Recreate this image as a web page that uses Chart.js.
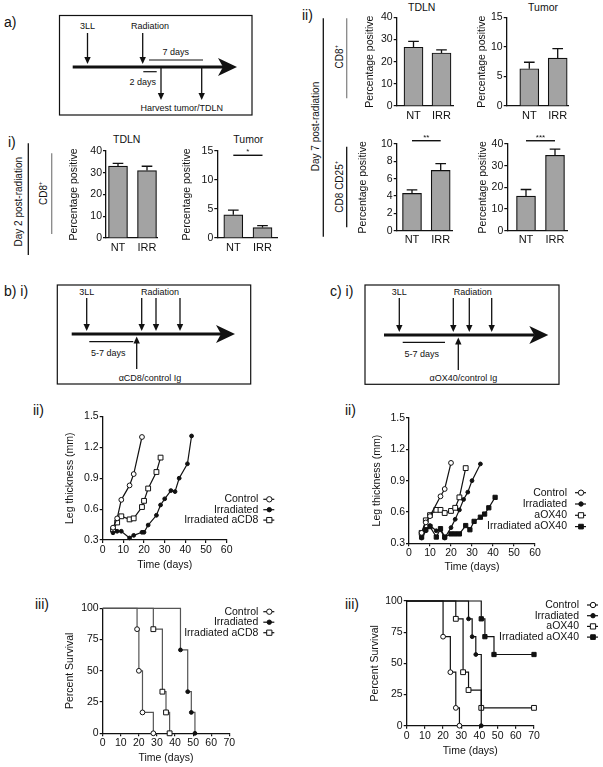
<!DOCTYPE html>
<html><head><meta charset="utf-8">
<script src="https://cdn.jsdelivr.net/npm/chart.js@4.4.1/dist/chart.umd.min.js"></script>
<style>
html,body{margin:0;padding:0;background:#fff;}
#page{position:relative;width:603px;height:767px;overflow:hidden;background:#fff;}
#page canvas{position:absolute;}
#ann{position:absolute;left:0;top:0;}
#ann text{font-family:"Liberation Sans",Arial,sans-serif;fill:#111;}
</style></head>
<body><div id="page">
<svg id="ann" width="603" height="767" viewBox="0 0 603 767"></svg>
</div>
<script>
// ---------------- DATA ----------------
const barCategories = ['NT', 'IRR'];
const day2TdlnCD8 = [33.1, 31.0];
const day2TdlnCD8Err = [1.2, 2.0];
const day2TumorCD8 = [4.0, 1.8];
const day2TumorCD8Err = [0.8, 0.35];
const day7TdlnCD8 = [26.5, 23.9];
const day7TdlnCD8Err = [2.6, 1.4];
const day7TumorCD8 = [6.3, 8.1];
const day7TumorCD8Err = [1.1, 1.6];
const day7TdlnCD25 = [4.3, 6.95];
const day7TdlnCD25Err = [0.4, 0.78];
const day7TumorCD25 = [16.0, 34.8];
const day7TumorCD25Err = [3.0, 2.8];

// b ii) leg thickness
const bCtrlDays = [5, 7, 9, 13, 15, 19];
const bCtrlThick = [0.42, 0.51, 0.69, 0.83, 0.94, 1.30];
const bIrrDays = [5, 7, 9, 13, 15, 19, 20, 22, 26, 28, 30, 33, 35, 37, 41, 43];
const bIrrThick = [0.37, 0.385, 0.385, 0.32, 0.345, 0.375, 0.375, 0.445, 0.54, 0.64, 0.70, 0.78, 0.77, 0.90, 1.04, 1.31];
const bIrrCD8Days = [5, 7, 9, 13, 15, 19, 20, 22, 26, 28];
const bIrrCD8Thick = [0.40, 0.47, 0.53, 0.50, 0.51, 0.62, 0.68, 0.80, 0.96, 1.10];

// c ii) leg thickness
const cCtrlDays = [6, 8, 10, 15, 17, 20];
const cCtrlThick = [0.40, 0.50, 0.56, 0.75, 0.82, 1.07];
const cIrrDays = [6, 8, 10, 13, 15, 17, 20, 22, 24, 26, 28, 30, 34];
const cIrrThick = [0.35, 0.42, 0.47, 0.42, 0.43, 0.35, 0.45, 0.53, 0.62, 0.72, 0.79, 0.90, 1.06];
const cOX40Days = [6, 8, 10, 13, 15, 17, 20, 22, 24, 27];
const cOX40Thick = [0.40, 0.52, 0.57, 0.62, 0.62, 0.59, 0.61, 0.64, 0.74, 1.02];
const cIrrOX40Days = [6, 8, 10, 13, 15, 17, 20, 22, 24, 27, 29, 31, 34, 36, 38, 41];
const cIrrOX40Thick = [0.36, 0.43, 0.46, 0.36, 0.44, 0.36, 0.39, 0.39, 0.39, 0.47, 0.43, 0.51, 0.55, 0.58, 0.64, 0.74];

// b iii) survival
const bSurvCtrlDays = [0, 19, 20, 22, 28];
const bSurvCtrl = [100, 83.3, 50, 16.7, 0];
const bSurvIrrDays = [0, 43, 47, 49, 51];
const bSurvIrr = [100, 66.7, 33.3, 16.7, 0];
const bSurvIrrCD8Days = [0, 28, 33, 35, 37];
const bSurvIrrCD8 = [100, 83.3, 33.3, 16.7, 0];

// c iii) survival
const cSurvCtrlDays = [0, 20, 24, 27, 29];
const cSurvCtrl = [100, 71.4, 42.9, 14.3, 0];
const cSurvIrrDays = [0, 34, 36, 38, 41];
const cSurvIrr = [100, 85.7, 71.4, 57.1, 0];
const cSurvOX40Days = [0, 27, 31, 34, 41, 70];
const cSurvOX40 = [100, 85.7, 42.9, 28.6, 14.3, 14.3];
const cSurvIrrOX40Days = [0, 41, 43, 48, 70];
const cSurvIrrOX40 = [100, 85.7, 71.4, 57.1, 57.1];

// ---------------- ANNOTATIONS (SVG) ----------------
const NS = 'http://www.w3.org/2000/svg';
const ann = document.getElementById('ann');
function el(tag, attrs, text) {
  const e = document.createElementNS(NS, tag);
  for (const k in attrs) e.setAttribute(k, attrs[k]);
  if (text !== undefined) e.textContent = text;
  ann.appendChild(e); return e;
}
function ln(x1, y1, x2, y2, w, c) { el('line', {x1, y1, x2, y2, stroke: c || '#111', 'stroke-width': w || 1.2}); }
function arrowV(x, y1, y2) {
  const d = y2 > y1 ? 1 : -1;
  ln(x, y1, x, y2 - d * 5, 1.3);
  el('polygon', {points: `${x - 3.2},${y2 - d * 7} ${x + 3.2},${y2 - d * 7} ${x},${y2}`, fill: '#111'});
}
function mainArrow(x1, x2, y) {
  ln(x1, y, x2 - 14, y, 3);
  el('polygon', {points: `${x2 - 19},${y - 9} ${x2},${y} ${x2 - 19},${y + 9} ${x2 - 14},${y}`, fill: '#111'});
}
function txt(x, y, s, size, anchor) { return el('text', {x, y, 'font-size': size, 'text-anchor': anchor || 'middle'}, s); }
function vtxt(x, y, s, size) {
  return el('text', {transform: `translate(${x},${y}) rotate(-90)`, 'font-size': size, 'text-anchor': 'middle', 'dominant-baseline': 'central'}, s);
}
function rect(x, y, w, h) { el('rect', {x, y, width: w, height: h, fill: 'none', stroke: '#111', 'stroke-width': 1.2}); }

// panel labels
[['a)', 4, 27], ['i)', 8, 147], ['ii)', 302, 20], ['b) i)', 4, 296], ['c) i)', 330, 296],
 ['ii)', 33, 415], ['ii)', 345, 415], ['iii)', 35, 609], ['iii)', 345, 609]].forEach(p => txt(p[1], p[2], p[0], 14, 'start'));

// timeline a
rect(59.5, 15.5, 192.5, 99.5);
txt(87.5, 28.5, '3LL', 9); arrowV(87.5, 33, 64);
txt(150, 28.5, 'Radiation', 9); arrowV(142.7, 33, 64);
mainArrow(72.7, 237, 67);
ln(149, 60, 203, 60, 1.2); txt(175.7, 55, '7 days', 9);
ln(143.3, 71.7, 156.7, 71.7, 1.2); txt(142.7, 84.5, '2 days', 9);
arrowV(161, 68, 100); arrowV(201.7, 68, 100);
txt(181.7, 111, 'Harvest tumor/TDLN', 9);

// timeline b i
rect(57.3, 285, 193.4, 99);
txt(86.7, 295, '3LL', 9); arrowV(86.7, 298, 331);
txt(160, 295, 'Radiation', 9); arrowV(141.7, 298, 331); arrowV(156, 298, 331); arrowV(180, 298, 331);
mainArrow(71.7, 235, 334);
ln(89.3, 341.7, 133.3, 341.7, 1.2); txt(108.3, 355.5, '5-7 days', 9);
arrowV(136.7, 369, 336.5);
txt(150, 381, 'αCD8/control Ig', 9);

// timeline c i
rect(365, 285, 194, 99.3);
txt(399.3, 295, '3LL', 9); arrowV(399.3, 298, 332);
txt(472.7, 295, 'Radiation', 9); arrowV(453.3, 298, 332); arrowV(469.3, 298, 332); arrowV(491.7, 298, 332);
mainArrow(384, 548.3, 335);
ln(402.7, 342.3, 445, 342.3, 1.2); txt(421.7, 356.5, '5-7 days', 9);
arrowV(458.3, 370, 337.5);
txt(463.3, 381, 'αOX40/control Ig', 9);

// vertical group labels
vtxt(18, 201.7, 'Day 2 post-radiation', 10); ln(28.3, 143.3, 28.3, 255, 1.3);
let t = vtxt(43.3, 193.3, 'CD8', 10);
t.innerHTML = 'CD8<tspan baseline-shift="super" font-size="6">+</tspan>';
ln(51.7, 153.3, 51.7, 234, 1.3, '#888');
vtxt(315, 126.5, 'Day 7 post-radiation', 10); ln(323.3, 18.3, 323.3, 236.7, 1.3);
t = vtxt(339, 56.7, 'CD8', 10); t.innerHTML = 'CD8<tspan baseline-shift="super" font-size="6">+</tspan>';
ln(346.7, 18.3, 346.7, 98.3, 1.3, '#888');
t = vtxt(339, 186.7, 'CD8 CD25', 10); t.innerHTML = 'CD8 CD25<tspan baseline-shift="super" font-size="6">+</tspan>';
ln(346.7, 146.7, 346.7, 227.3, 1.3);

// chart titles
txt(126.7, 143, 'TDLN', 10.5); txt(248.3, 143, 'Tumor', 10.5);
txt(421.7, 11, 'TDLN', 10.5); txt(543, 11, 'Tumor', 10.5);

// ---------------- CHARTS ----------------
const INK = '#111';
const FONT = '"Liberation Sans", Arial, Helvetica, sans-serif';
Chart.defaults.font.family = FONT;
Chart.defaults.font.size = 10;
Chart.defaults.color = INK;

function setup(id, g) {
  const left = Math.round(g.ytx - 6), top = Math.round(g.T - g.padTop);
  const width = Math.round(g.right) - left;
  const want = g.xty ? (g.xty - g.B + 6) : g.xH;
  const height = Math.ceil(g.B - top + want);
  const fr = {left, top, width, height, yW: g.L - left, xH: height - (g.B - top), padTop: g.T - top, padRight: width - (g.R - left)};
  const c = document.createElement('canvas');
  c.id = id; c.width = width; c.height = height;
  c.style.left = left + 'px'; c.style.top = top + 'px';
  c.style.width = width + 'px'; c.style.height = height + 'px';
  document.getElementById('page').appendChild(c);
  return {c, fr};
}

function yScale(min, max, step, title, fr, fmt) {
  return {
    type: 'linear', min, max,
    ticks: {stepSize: step, padding: 1, color: INK, font: {size: 10.5}, callback: fmt || (v => v)},
    grid: {display: true, drawOnChartArea: false, drawTicks: true, tickLength: 3, color: INK, lineWidth: 1.2},
    border: {display: true, color: INK, width: 1.3},
    title: {display: true, text: title, padding: 0, font: {size: 10.5}, color: INK},
    afterFit(s) { s.width = fr.yW; }
  };
}

const errorBarPlugin = {
  id: 'errorBars',
  afterDatasetsDraw(chart) {
    const ctx = chart.ctx, y = chart.scales.y;
    chart.data.datasets.forEach((ds, di) => {
      if (!ds.errors) return;
      chart.getDatasetMeta(di).data.forEach((bar, i) => {
        const v = ds.data[i].y, e = ds.errors[i];
        const top = y.getPixelForValue(v + e), base = y.getPixelForValue(v);
        const half = bar.width * 0.28;
        ctx.save(); ctx.strokeStyle = INK; ctx.lineWidth = 1.3;
        ctx.beginPath(); ctx.moveTo(bar.x, base); ctx.lineTo(bar.x, top);
        ctx.moveTo(bar.x - half, top); ctx.lineTo(bar.x + half, top); ctx.stroke(); ctx.restore();
      });
    });
  }
};
const sigPlugin = {
  id: 'sig',
  afterDraw(chart, args, opts) {
    if (!opts || !opts.text) return;
    const meta = chart.getDatasetMeta(0);
    const x1 = meta.data[0].x, x2 = meta.data[1].x;
    const yy = chart.scales.y.getPixelForValue(opts.level);
    const ctx = chart.ctx;
    ctx.save(); ctx.strokeStyle = INK; ctx.lineWidth = 1.4;
    ctx.beginPath(); ctx.moveTo(x1, yy); ctx.lineTo(x2, yy); ctx.stroke();
    ctx.fillStyle = INK; ctx.font = '8px ' + FONT; ctx.textAlign = 'center'; ctx.textBaseline = 'bottom';
    ctx.fillText(opts.text, (x1 + x2) / 2, yy + 1);
    ctx.restore();
  }
};

function barChart(id, g, vals, errs, yMin, yMax, yStep, sig) {
  const {c, fr} = setup(id, g);
  const u = g.c2 - g.c1;
  const xmin = 1 - (g.c1 - g.L) / u, xmax = 2 + (g.R - g.c2) / u;
  new Chart(c, {
    type: 'bar',
    data: {datasets: [{
      data: barCategories.map((k, i) => ({x: i + 1, y: vals[i]})),
      errors: errs, backgroundColor: '#a3a3a3', borderColor: INK, borderWidth: 1.2, barThickness: 19
    }]},
    options: {
      responsive: false, animation: false, events: [],
      layout: {padding: {top: fr.padTop, right: fr.padRight, bottom: 0, left: 0}},
      plugins: {legend: {display: false}, tooltip: {enabled: false}, sig: sig || {}},
      scales: {
        x: {type: 'linear', min: xmin, max: xmax, offset: false,
            afterBuildTicks(s) { s.ticks = barCategories.map((k, i) => ({value: i + 1})); },
            ticks: {callback: (v, i) => barCategories[i], autoSkip: false, padding: 3, font: {size: 11}, color: INK, maxRotation: 0},
            grid: {display: false, drawTicks: false, tickLength: 0}, border: {display: true, color: INK, width: 1.3},
            afterFit(s) { s.height = fr.xH; }},
        y: yScale(yMin, yMax, yStep, 'Percentage positive', fr)
      }
    },
    plugins: [errorBarPlugin, sigPlugin]
  });
}

barChart('a1', {L: 106, T: 151, R: 157, B: 238, c1: 118, c2: 147, ytx: 74, padTop: 10, right: 161, xH: 18},
  day2TdlnCD8, day2TdlnCD8Err, 0, 40, 10);
barChart('a2', {L: 217.3, T: 151, R: 277, B: 238, c1: 233.3, c2: 262.5, ytx: 186.7, padTop: 10, right: 281, xH: 18},
  day2TumorCD8, day2TumorCD8Err, 0, 15, 5, {level: 14.26, text: '*'});
barChart('a3', {L: 396.7, T: 17.3, R: 453, B: 106, c1: 413.5, c2: 441.5, ytx: 370, padTop: 10, right: 457, xH: 18},
  day7TdlnCD8, day7TdlnCD8Err, 0, 40, 10);
barChart('a4', {L: 506.7, T: 17.3, R: 568, B: 106, c1: 529.3, c2: 557.7, ytx: 481.7, padTop: 10, right: 572, xH: 18},
  day7TumorCD8, day7TumorCD8Err, 0, 15, 5);
barChart('a5', {L: 396.7, T: 144, R: 452, B: 230.7, c1: 412, c2: 440.7, ytx: 363.3, padTop: 14, right: 456, xH: 18},
  day7TdlnCD25, day7TdlnCD25Err, 0, 10, 2, {level: 10.38, text: '**'});
barChart('a6', {L: 507.3, T: 144, R: 567, B: 230.7, c1: 526, c2: 555, ytx: 482.7, padTop: 14, right: 571, xH: 18},
  day7TumorCD25, day7TumorCD25Err, 0, 40, 10, {level: 41.5, text: '***'});

// ---- line / survival charts ----
function drawMarker(ctx, style, x, y, r, fill) {
  ctx.beginPath();
  if (style === 'rect') { const s = r * Math.SQRT1_2; ctx.rect(x - s, y - s, 2 * s, 2 * s); }
  else ctx.arc(x, y, r, 0, Math.PI * 2);
  ctx.fillStyle = fill; ctx.fill(); ctx.lineWidth = 1; ctx.strokeStyle = INK; ctx.stroke();
}
const sideLegendPlugin = {
  id: 'sideLegend',
  afterDraw(chart, args, o) {
    const ctx = chart.ctx;
    ctx.save();
    chart.data.datasets.forEach((ds, i) => {
      const y = o.y + i * o.dy;
      ctx.font = '10.5px ' + FONT; ctx.fillStyle = INK; ctx.textAlign = 'right'; ctx.textBaseline = 'middle';
      ctx.fillText(ds.label, o.x, y);
      const mx = o.x + o.gap;
      ctx.strokeStyle = INK; ctx.lineWidth = 1.2;
      ctx.beginPath(); ctx.moveTo(mx - 6, y); ctx.lineTo(mx + 5, y); ctx.stroke();
      drawMarker(ctx, ds.pointStyle, mx, y, ds._legendR + 0.3, ds.pointBackgroundColor);
    });
    ctx.restore();
  }
};

function series(label, xs, ys, style, filled, r, lineColor, extra) {
  return Object.assign({
    label, data: xs.map((x, i) => ({x, y: ys[i]})),
    borderColor: lineColor || INK, borderWidth: 1.2,
    pointStyle: style, pointRadius: r, pointBackgroundColor: filled ? INK : '#fff',
    pointBorderColor: INK, pointBorderWidth: 1, tension: 0, fill: false, clip: false, _legendR: r
  }, extra || {});
}

function lineChart(id, g, datasets, xo, yo, lg) {
  const {c, fr} = setup(id, g);
  new Chart(c, {
    type: 'line',
    data: {datasets},
    options: {
      responsive: false, animation: false, events: [],
      layout: {padding: {top: fr.padTop, right: fr.padRight, bottom: 0, left: 0}},
      plugins: {legend: {display: false}, tooltip: {enabled: false},
        sideLegend: {x: lg.x - fr.left, y: lg.y - fr.top, dy: lg.dy, gap: lg.gap}},
      scales: {
        x: {type: 'linear', min: xo.min, max: xo.max,
            ticks: {stepSize: xo.step, padding: 1, font: {size: 10.5}, color: INK, maxRotation: 0, autoSkip: false},
            grid: {display: true, drawOnChartArea: false, drawTicks: true, tickLength: 3, color: INK, lineWidth: 1.2},
            border: {display: true, color: INK, width: 1.3},
            title: {display: true, text: 'Time (days)', padding: 0, font: {size: 10.5}, color: INK},
            afterFit(s) { s.height = fr.xH; }},
        y: yScale(yo.min, yo.max, yo.step, yo.title, fr, yo.fmt)
      }
    },
    plugins: [sideLegendPlugin]
  });
}

const thickY = {min: 0.3, max: 1.5, step: 0.3, title: 'Leg thickness (mm)', fmt: v => Number(v).toFixed(1)};
const survY = {min: 0, max: 100, step: 25, title: 'Percent Survival'};

lineChart('b2', {L: 102.7, T: 416.4, R: 226.7, B: 540, ytx: 70, xty: 565, padTop: 9, right: 285}, [
  series('Control', bCtrlDays, bCtrlThick, 'circle', false, 2.4),
  series('Irradiated', bIrrDays, bIrrThick, 'circle', true, 1.9),
  series('Irradiated aCD8', bIrrCD8Days, bIrrCD8Thick, 'rect', false, 3.4)
], {min: 0, max: 60, step: 10}, thickY, {x: 258.3, y: 499.3, dy: 10.4, gap: 11});

lineChart('c2', {L: 409, T: 418, R: 535, B: 543.3, ytx: 377, xty: 567, padTop: 9, right: 600}, [
  series('Control', cCtrlDays, cCtrlThick, 'circle', false, 2.4),
  series('Irradiated', cIrrDays, cIrrThick, 'circle', true, 1.9),
  series('aOX40', cOX40Days, cOX40Thick, 'rect', false, 3.4),
  series('Irradiated aOX40', cIrrOX40Days, cIrrOX40Thick, 'rect', true, 3.0)
], {min: 0, max: 60, step: 10}, thickY, {x: 567, y: 492.7, dy: 11.3, gap: 14});

const firstHidden = r => (ctx => ctx.dataIndex === 0 ? 0 : r);
lineChart('b3', {L: 102.7, T: 608.3, R: 229.3, B: 733.3, ytx: 70, xty: 758, padTop: 9, right: 285}, [
  series('Control', bSurvCtrlDays, bSurvCtrl, 'circle', false, 2.4, '#555', {stepped: true, pointRadius: firstHidden(2.4)}),
  series('Irradiated', bSurvIrrDays, bSurvIrr, 'circle', true, 1.9, '#555', {stepped: true, pointRadius: firstHidden(1.9)}),
  series('Irradiated aCD8', bSurvIrrCD8Days, bSurvIrrCD8, 'rect', false, 3.4, '#555', {stepped: true, pointRadius: firstHidden(3.4)})
], {min: 0, max: 70, step: 10}, survY, {x: 258.3, y: 611.7, dy: 10.5, gap: 11});

lineChart('c3', {L: 406.7, T: 601, R: 534, B: 725.7, ytx: 375, xty: 751, padTop: 9, right: 602}, [
  series('Control', cSurvCtrlDays, cSurvCtrl, 'circle', false, 2.4, INK, {stepped: true, pointRadius: firstHidden(2.4)}),
  series('Irradiated', cSurvIrrDays, cSurvIrr, 'circle', true, 1.9, INK, {stepped: true, pointRadius: firstHidden(1.9)}),
  series('aOX40', cSurvOX40Days, cSurvOX40, 'rect', false, 3.4, INK, {stepped: true, pointRadius: firstHidden(3.4)}),
  series('Irradiated aOX40', cSurvIrrOX40Days, cSurvIrrOX40, 'rect', true, 3.0, INK, {stepped: true, pointRadius: firstHidden(3.0)})
], {min: 0, max: 70, step: 10}, survY, {x: 579, y: 605, dy: 10.7, gap: 14});
</script>
</body></html>
